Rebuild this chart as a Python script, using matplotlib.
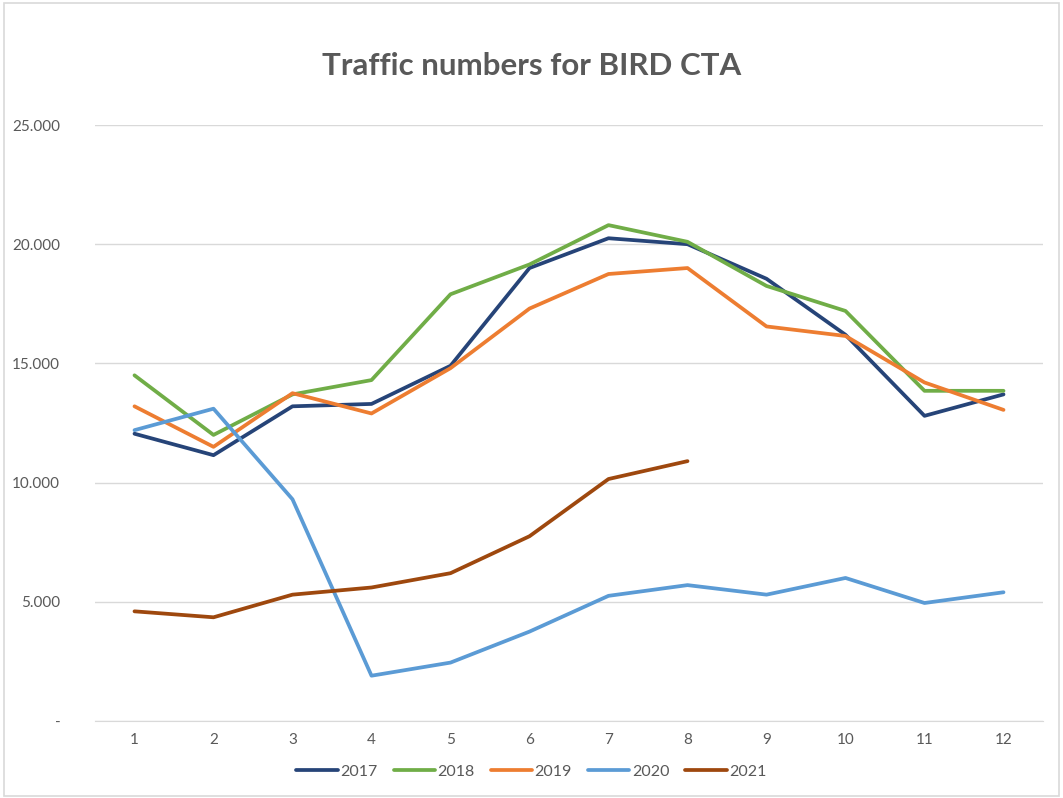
import matplotlib.pyplot as plt
from matplotlib.patches import Rectangle
from matplotlib.ticker import FuncFormatter

months = [1, 2, 3, 4, 5, 6, 7, 8, 9, 10, 11, 12]
y2017 = [12050, 11150, 13200, 13300, 14900, 19000, 20250, 20000, 18550, 16200, 12800, 13700]
y2018 = [14500, 12000, 13700, 14300, 17900, 19150, 20800, 20100, 18250, 17200, 13850, 13850]
y2019 = [13200, 11500, 13750, 12900, 14800, 17300, 18750, 19000, 16550, 16150, 14200, 13050]
y2020 = [12200, 13100, 9300, 1900, 2450, 3750, 5250, 5700, 5300, 6000, 4950, 5400]
y2021 = [4600, 4350, 5300, 5600, 6200, 7750, 10150, 10900]

series = [
    ('2017', y2017, '#264478'),
    ('2018', y2018, '#70AD47'),
    ('2019', y2019, '#ED7D31'),
    ('2020', y2020, '#5B9BD5'),
    ('2021', y2021, '#9E480E'),
]

plt.rcParams['font.family'] = ['Lato', 'DejaVu Sans']

fig = plt.figure(figsize=(10.63, 7.98), dpi=100)
ax = fig.add_axes([95 / 1063, 1 - 721 / 798, (1043 - 95) / 1063, (721 - 125) / 798])

for name, vals, col in series:
    ax.plot(months[:len(vals)], vals, color=col, lw=2.7, label=name,
            solid_capstyle='round', solid_joinstyle='round')

ax.set_xlim(0.5, 12.5)
ax.set_ylim(0, 25000)
ax.set_xticks(months)
ax.set_yticks(range(0, 25001, 5000))

def fmt(v, pos):
    if v == 0:
        return '-'
    return f'{int(v):,}'.replace(',', '.')

ax.yaxis.set_major_formatter(FuncFormatter(fmt))
ax.grid(True, axis='y', color='#D9D9D9', lw=1)
ax.set_axisbelow(True)
for s in ['left', 'right', 'top']:
    ax.spines[s].set_visible(False)
ax.spines['bottom'].set_color('#D9D9D9')
ax.tick_params(axis='both', length=0, labelsize=11, colors='#595959')
ax.tick_params(axis='y', pad=25)
ax.tick_params(axis='x', pad=9)

fig.text(0.5, 1 - 66 / 798, 'Traffic numbers for BIRD CTA', ha='center', va='center',
         fontsize=22.5, fontweight='bold', color='#595959')

leg = fig.legend(loc='center', bbox_to_anchor=(0.5, 1 - 772 / 798), ncol=5, frameon=False,
                 fontsize=11.5, handlelength=2.6, handletextpad=0.15, columnspacing=1.0)
for t in leg.get_texts():
    t.set_color('#595959')

fig.patches.append(Rectangle((4 / 1063, 2 / 798), 1055 / 1063, 793 / 798, transform=fig.transFigure,
                             fill=False, ec='#D9D9D9', lw=1.2))

fig.savefig('out.png', dpi=100, facecolor='white')
